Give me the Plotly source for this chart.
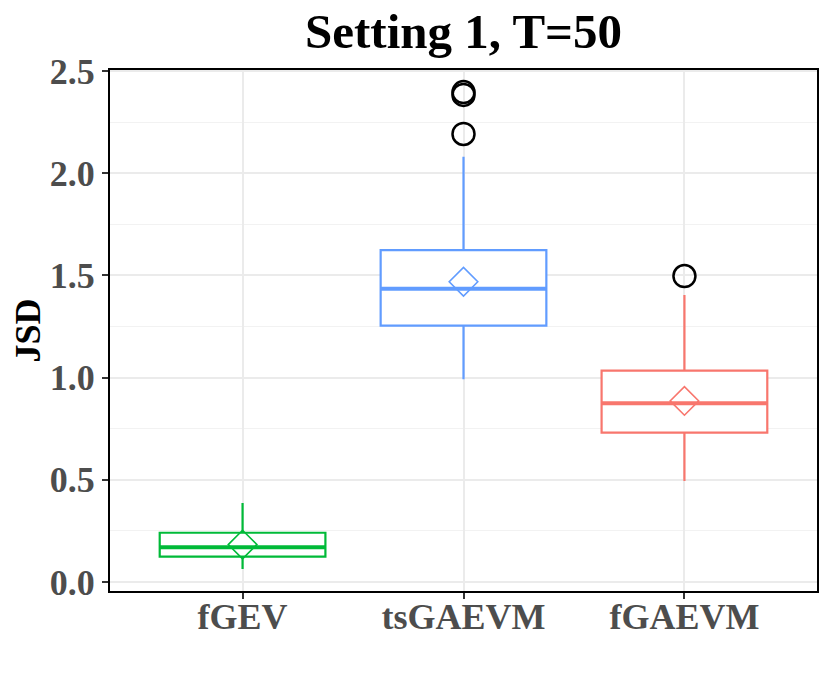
import plotly.graph_objects as go

# box summaries (JSD)
methods = ["fGEV", "tsGAEVM", "fGAEVM"]
colors = ["#00BA38", "#619CFF", "#F8766D"]
lower = [0.064, 0.992, 0.494]
q1 = [0.124, 1.254, 0.731]
median = [0.170, 1.435, 0.874]
q3 = [0.241, 1.624, 1.034]
upper = [0.386, 2.081, 1.404]
means = [0.183, 1.469, 0.886]

outlier_x = ["tsGAEVM", "tsGAEVM", "tsGAEVM", "fGAEVM"]
outlier_y = [2.192, 2.397, 2.383, 1.497]

SERIF = "Liberation Serif, Times New Roman, serif"
BOX_W = 0.75

fig = go.Figure()

for i, name in enumerate(methods):
    fig.add_trace(go.Box(
        x=[name],
        q1=[q1[i]], median=[median[i]], q3=[q3[i]],
        lowerfence=[lower[i]], upperfence=[upper[i]],
        width=BOX_W,
        whiskerwidth=0,
        fillcolor="white",
        line=dict(color=colors[i], width=2.2),
        boxpoints=False,
        showlegend=False,
        hoverinfo="skip",
    ))
    # ggplot draws the median thicker than the box outline
    fig.add_shape(
        type="line", xref="x", yref="y",
        x0=i - BOX_W / 2, x1=i + BOX_W / 2,
        y0=median[i], y1=median[i],
        line=dict(color=colors[i], width=4),
    )

fig.add_trace(go.Scatter(
    x=outlier_x, y=outlier_y, mode="markers",
    marker=dict(symbol="circle-open", size=22, color="black",
                line=dict(width=2.5, color="black")),
    showlegend=False,
))

fig.add_trace(go.Scatter(
    x=methods, y=means, mode="markers",
    marker=dict(symbol="diamond-open", size=22, color=colors,
                line=dict(width=1.6, color=colors)),
    showlegend=False,
))

# page body adds an 8px offset, margins compensate for it
fig.update_layout(
    width=830, height=691,
    paper_bgcolor="white", plot_bgcolor="white",
    margin=dict(l=102, r=21, t=62, b=108, autoexpand=False),
    font=dict(family=SERIF),
    title=dict(
        text="<b>Setting 1, T=50</b>",
        font=dict(family=SERIF, size=49, color="black"),
        x=0.5, xref="paper", xanchor="center",
        y=1 - 23 / 691, yref="container", yanchor="middle",
        automargin=False,
    ),
)

fig.update_xaxes(
    type="category",
    categoryorder="array", categoryarray=methods,
    range=[-0.6, 2.6],
    automargin=False,
    showgrid=True, gridcolor="#EBEBEB", gridwidth=2,
    showline=True, linecolor="black", linewidth=2, mirror=True,
    ticks="outside", ticklen=6, tickwidth=2, tickcolor="#333333",
    tickfont=dict(family=SERIF, size=36, color="#4D4D4D"),
    tickprefix="<b>", ticksuffix="</b>",
    ticklabelstandoff=-13,
    zeroline=False,
)

fig.update_yaxes(
    range=[-0.044, 2.505],
    automargin=False,
    tickvals=[0, 0.5, 1.0, 1.5, 2.0, 2.5],
    ticktext=["<b>0.0</b>", "<b>0.5</b>", "<b>1.0</b>", "<b>1.5</b>",
              "<b>2.0</b>", "<b>2.5</b>"],
    showgrid=True, gridcolor="#EBEBEB", gridwidth=2,
    minor=dict(tickvals=[0.25, 0.75, 1.25, 1.75, 2.25],
               showgrid=True, gridcolor="#F2F2F2", gridwidth=1, ticks=""),
    showline=True, linecolor="black", linewidth=2, mirror=True,
    ticks="outside", ticklen=6, tickwidth=2, tickcolor="#333333",
    tickfont=dict(family=SERIF, size=36, color="#4D4D4D"),
    title=dict(text="<b>JSD</b>", font=dict(family=SERIF, size=36, color="black"),
               standoff=2),
    zeroline=False,
)

fig.write_html("out.html")
